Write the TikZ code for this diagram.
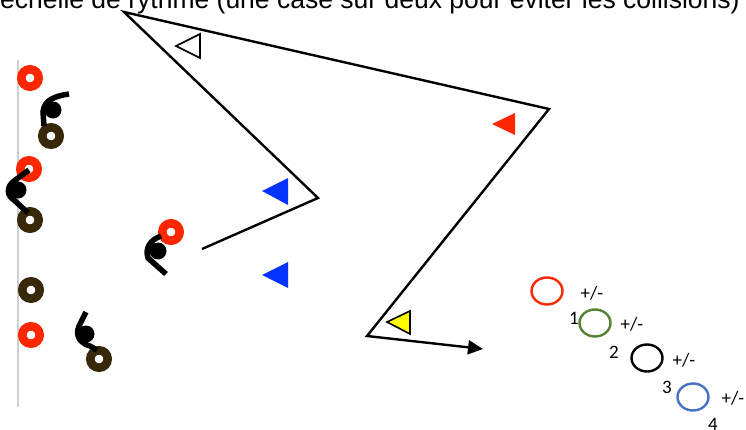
\documentclass[tikz,border=0pt]{standalone}
\usepackage{fontspec}
\setmainfont{Liberation Sans}
\newfontfamily\tagfont{Carlito}
\usetikzlibrary{shapes.geometric,arrows.meta}

\definecolor{ringred}{RGB}{255,38,0}
\definecolor{ringbrown}{RGB}{55,40,10}
\definecolor{flagblue}{RGB}{4,51,255}
\definecolor{flagyellow}{RGB}{255,251,0}
\definecolor{lanegray}{RGB}{208,208,208}
\definecolor{setgreen}{RGB}{84,130,53}
\definecolor{setblue}{RGB}{68,114,196}

\begin{document}
\begin{tikzpicture}[
   x=1pt,y=-1pt,
   ring/.style={circle,draw,line width=8.6pt,minimum size=17.4pt,inner sep=0pt},
   body/.style={line width=5.5pt},
   head/.style={fill=black},
   lane/.style={line width=2.4pt,line join=miter,-{Triangle[length=15pt,width=14pt]}},
   flag/.style={line width=1.6pt,line join=miter},
   set/.style={ellipse,draw,line width=2.4pt,minimum width=31pt,minimum height=27pt,inner sep=0pt},
   tag/.style={font=\tagfont\fontsize{19}{19}\selectfont,inner sep=0pt}]
\useasboundingbox (0,0) rectangle (746,430);
\clip (0,0) rectangle (746,430);

% heading
\node[anchor=base west,inner sep=0pt,font=\fontsize{26.5}{26.5}\selectfont] (titre) at (0,8.5)
   {échelle de rythme (une case sur deux pour éviter les collisions)};

% wall
\draw[lanegray,line width=2.8pt] (18,60) -- (18,407);

% rings
\node[ring,ringred]   (r1) at (30,78)  {};
\node[ring,ringbrown] (b1) at (51,136) {};
\node[ring,ringred]   (r2) at (29,169) {};
\node[ring,ringbrown] (b2) at (30,220) {};
\node[ring,ringred]   (r3) at (171,232) {};
\node[ring,ringbrown] (b3) at (31,290) {};
\node[ring,ringred]   (r4) at (31,335) {};
\node[ring,ringbrown] (b4) at (99,359) {};

% swimmers
\draw[body] (69,94) .. controls (55,96) and (44,100) .. (43,112) -- (44,126);
\fill[head] (53,110) circle (8.5);
\draw[body] (29,170) -- (14,181) .. controls (6,187) and (7,196) .. (14,200) -- (28,213);
\fill[head] (18,190) circle (8.5);
\draw[body] (161,236) .. controls (150,240) and (145,248) .. (148,258) -- (166,274);
\fill[head] (158,251) circle (8.5);
\draw[body] (86,312) -- (79,326) .. controls (75,336) and (80,343) .. (90,346) -- (97,350);
\fill[head] (86,334) circle (8.5);

% route
\coordinate (depart) at (202,249);
\coordinate (c1) at (318,198);
\coordinate (c2) at (124,12);
\coordinate (c3) at (549,109);
\coordinate (c4) at (367,336);
\coordinate (arrivee) at (483,349);
\draw[lane] (depart) -- (c1) -- (c2) -- (c3) -- (c4) -- (arrivee);

% flags
\filldraw[flag,fill=white] (176,46) -- (200,34) -- (200,58) -- cycle;
\fill[ringred] (492,124) -- (515,113) -- (515,135) -- cycle;
\fill[flagblue] (262,191) -- (288,178) -- (288,205) -- cycle;
\fill[flagblue] (262,275) -- (288,262) -- (288,288) -- cycle;
\filldraw[flag,fill=flagyellow] (387,322) -- (410,311) -- (410,334) -- cycle;

% sets
\node[set,draw=ringred]  (s0) at (547,291) {};
\node[set,draw=setgreen] (s1) at (595,323) {};
\node[set,draw=black]    (s2) at (647,358) {};
\node[set,draw=setblue]  (s3) at (693,397) {};
\node[tag] (pm0) at (592,293) {+/-};
\node[tag] (n1)  at (574,318) {1};
\node[tag] (pm1) at (632,324) {+/-};
\node[tag] (n2)  at (614,352) {2};
\node[tag] (pm2) at (684,360) {+/-};
\node[tag] (n3)  at (667,387) {3};
\node[tag] (pm3) at (733,398) {+/-};
\node[tag] (n4)  at (713,424) {4};
\end{tikzpicture}
\end{document}
